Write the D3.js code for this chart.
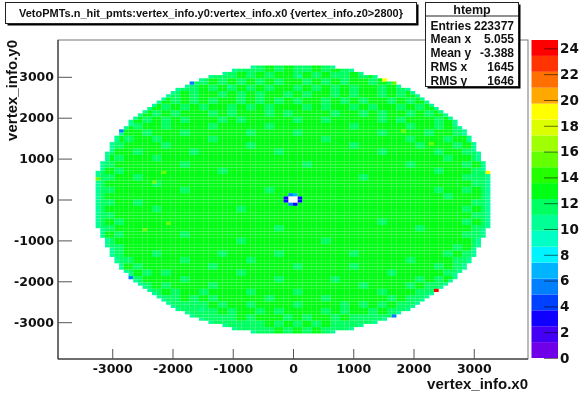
<!DOCTYPE html>
<html>
<head>
<meta charset="utf-8">
<script src="https://cdnjs.cloudflare.com/ajax/libs/d3/7.8.5/d3.min.js"></script>
<style>
html, body { margin: 0; padding: 0; background: #fff; }
svg { display: block; font-family: "Liberation Sans", sans-serif; filter: blur(0.4px); }
svg text { font-weight: bold; fill: #111; }
</style>
</head>
<body>
<div id="chart"></div>
<script>
var binWidth = 78, axisLimit = 3900;

// half width in bins of each row, going out from y = 0
var rowHalfWidths = [42,42,42,42,42,42,42,42,42,41,41,41,40,40,40,39,39,39,38,38,37,
                     37,36,35,35,34,33,32,31,30,29,28,27,26,25,23,22,20,18,15,13,9];

// estimated level of each 2x2 bin block, top row first. each digit is level - 10
var blockRows = [
  "222222222222222222323223232222222222222222",
  "222222222222222323233232322323222222222222",
  "222222222222323232323323232332322222222222",
  "222222222223232323233232323233232322222222",
  "222222222323323232332323323233232322322222",
  "222222232323233232323233232323323232322222",
  "222222323232332323233323233232332323222222",
  "222223232333232333232333323323233232322222",
  "222232323233323233333233233333232333232222",
  "222323323333233333233333333233333233232322",
  "222332333233333323333233333333233332332222",
  "223233233333233333333333233333333233323322",
  "222333323333333323333333333233333323332322",
  "223323333323333333323333333333233333233222",
  "232333233333333333333333333333333333323322",
  "223333333233333333333323333333333233333232",
  "232333333333323333333333333333333333233322",
  "223323333333333333333333333323333333333222",
  "233333233333333333333333333333333333333322",
  "223333333233333333233333333333333333233232",
  "233333333333333333333333333333333333323332",
  "223323333333333333333333333333333333333322",
  "233333233333333233333333333333333333333232",
  "223333333333333333333333333333333333333322",
  "232333333333333333333333333333233333333232",
  "223333333333333333323333333333333323333322",
  "232333333233333333333333333333333333333222",
  "223333333333333233333333233333333333333322",
  "222333333333333333333333333333333333332322",
  "222333233333323333323333333233333333323222",
  "222233333233333323333333333333333233332222",
  "222323333333233333333233333233333333232222",
  "222232323333333233333333333333323333322222",
  "222223333233333333323333323333333323232222",
  "222222323333233333333333333323333232222222",
  "222222232332333323333233333333233322222222",
  "222222222323233333233333233333323222222222",
  "222222222222323323333233332323232222222222",
  "222222222222232332323333232332322222222222",
  "222222222222222323332323323222222222222222",
  "222222222222222222323232322222222222222222",
  "222222222222222222232323222222222222222222"
];

// level of the last bin on each row end
var rimValue = 11;

// single bins that stand out, x and y in axis units
var spotX = [2400,1678,-2696,-2458,-2845,-1666,1528,3239,1700,2226,1830,2320,-3250,-2150,-2300,-2450,-2080,-1545,-1046,116];
var spotY = [-2210,-2838,-1892,-2218,1679,2872,2929,657,2860,2463,1690,1360,530,650,430,-730,-580,-2710,2806,3000];
var spotZ = [24,6,5,5,5,6,19,19,16,15,15.5,15.5,15.5,15.5,15.5,15.5,15.5,10.5,10.5,10.5];

// the hole in the middle, in bins
var holeBinX = [-1,0,-1,0];
var holeBinY = [-1,-1,0,0];
var holeRimBinX = [-2,-2,1,1,-1,0,-1,0];
var holeRimBinY = [0,-1,0,-1,1,1,-2,-2];
var holeRimZ = [3,3,3,3,6,7,5,3];

// z axis
var zMax = 24.65;
var palette = ["#7000e8","#4400f4","#1000ff","#0040ff","#0080ff","#00b4ff","#00f4ff","#00ffc4",
               "#00ff94","#00ff60","#00ff14","#24ff00","#64ff00","#a0ff00","#dcff00","#ffff00",
               "#ffa800","#ff7000","#ff3400","#ff0000"];

var xTicks = [-3000,-2000,-1000,0,1000,2000,3000];
var yTicks = [-3000,-2000,-1000,0,1000,2000,3000];
var zTicks = [0,2,4,6,8,10,12,14,16,18,20,22,24];

var titleText = "VetoPMTs.n_hit_pmts:vertex_info.y0:vertex_info.x0 {vertex_info.z0>2800}";
var statsName = "htemp";
var statsLabels = ["Entries","Mean x","Mean y","RMS x","RMS y"];
var statsValues = ["223377","5.055","-3.388","1645","1646"];

var width = 581, height = 399;
var margin = {top: 40, right: 53, bottom: 40, left: 58};

var svg = d3.select("#chart").append("svg")
    .attr("width", width)
    .attr("height", height);

var x = d3.scaleLinear().domain([-axisLimit, axisLimit]).range([margin.left, width - margin.right]);
var y = d3.scaleLinear().domain([-axisLimit, axisLimit]).range([height - margin.bottom, margin.top]);
var z = d3.scaleLinear().domain([0, zMax]).range([358, 40]);

var bandSize = zMax / palette.length;
var bandEdges = d3.range(1, palette.length).map(function(i) { return i * bandSize; });
var colour = d3.scaleThreshold().domain(bandEdges).range(palette);

// build the bin list
var cells = [];
rowHalfWidths.forEach(function(halfWidth, k) {
    [k, -k - 1].forEach(function(row) {
        for (var col = -halfWidth; col < halfWidth; col++) {
            var blockRow = Math.floor((41 - row) / 2),
                blockCol = Math.floor((col + 42) / 2),
                isRim = col == -halfWidth || col == halfWidth - 1;
            cells.push({col: col, row: row, value: isRim ? rimValue : 10 + Number(blockRows[blockRow][blockCol])});
        }
    });
});

function findCell(col, row) {
    return cells.find(function(c) { return c.col == col && c.row == row; });
}

spotX.forEach(function(sx, i) {
    var c = findCell(Math.floor(sx / binWidth), Math.floor(spotY[i] / binWidth));
    if (c) c.value = spotZ[i];
});
holeRimBinX.forEach(function(col, i) {
    findCell(col, holeRimBinY[i]).value = holeRimZ[i];
});
holeBinX.forEach(function(col, i) {
    cells.splice(cells.indexOf(findCell(col, holeBinY[i])), 1);
});

// draw the bins
svg.append("g")
    .selectAll("rect")
    .data(cells)
    .enter()
    .append("rect")
    .attr("x", function(d) { return x(d.col * binWidth); })
    .attr("y", function(d) { return y((d.row + 1) * binWidth); })
    .attr("width", x(binWidth) - x(0))
    .attr("height", y(0) - y(binWidth))
    .attr("fill", function(d) { return colour(d.value); });

// frame
svg.append("rect")
    .attr("x", margin.left)
    .attr("y", margin.top)
    .attr("width", width - margin.left - margin.right)
    .attr("height", height - margin.top - margin.bottom)
    .attr("fill", "none")
    .attr("stroke", "#777");
svg.append("path")
    .attr("d", d3.line()([[margin.left, margin.top], [margin.left, height - margin.bottom], [width - margin.right, height - margin.bottom]]))
    .attr("fill", "none")
    .attr("stroke", "#222");

function minorTicks() {
    return d3.range(-3800, 3801, 200);
}

// x axis, ticks pointing up into the plot
var xAxis = svg.append("g").attr("transform", "translate(0," + (height - margin.bottom) + ")");
xAxis.call(d3.axisBottom(x).tickValues(minorTicks()).tickSize(-5).tickFormat(""));
xAxis.call(d3.axisBottom(x).tickValues(xTicks).tickSize(-10).tickPadding(11).tickFormat(String));

var yAxis = svg.append("g").attr("transform", "translate(" + margin.left + ",0)");
yAxis.call(d3.axisLeft(y).tickValues(minorTicks()).tickSize(-7).tickFormat(""));
yAxis.call(d3.axisLeft(y).tickValues(yTicks).tickSize(-14).tickPadding(4).tickFormat(String));

[xAxis, yAxis].forEach(function(axis) {
    axis.selectAll(".domain").remove();
    axis.selectAll("line").attr("stroke", "#555");
    axis.selectAll("text")
        .attr("font-family", "DejaVu Sans")
        .attr("font-size", 12.5)
        .style("font-weight", "bold");
});
xAxis.selectAll("text").attr("dy", "0.2em");

// axis titles
svg.append("text")
    .attr("x", 528)
    .attr("y", 389)
    .attr("text-anchor", "end")
    .attr("font-size", 15)
    .text("vertex_info.x0");
svg.append("text")
    .attr("transform", "translate(17,40) rotate(-90)")
    .attr("text-anchor", "end")
    .attr("font-size", 15)
    .text("vertex_info.y0");

// colour bar
var zBar = svg.append("g");
zBar.selectAll("rect")
    .data(palette)
    .enter()
    .append("rect")
    .attr("x", 531.5)
    .attr("y", function(d, i) { return z((i + 1) * bandSize); })
    .attr("width", 26.5)
    .attr("height", function(d, i) { return z(i * bandSize) - z((i + 1) * bandSize); })
    .attr("fill", function(d) { return d; });
var zAxis = svg.append("g").attr("transform", "translate(558,0)");
zAxis.call(d3.axisRight(z).tickValues(zTicks).tickSize(-14).tickPadding(2).tickFormat(String));
zAxis.select(".domain").remove();
zAxis.selectAll("line").attr("stroke", "#000").attr("stroke-opacity", 0.55);
zAxis.selectAll("text")
    .attr("font-family", "DejaVu Sans")
    .attr("font-size", 13.5)
    .style("font-weight", "bold");

// boxes with a drop shadow
function box(left, top, right, bottom) {
    svg.append("rect")
        .attr("x", left + 2).attr("y", top + 2)
        .attr("width", right - left).attr("height", bottom - top)
        .attr("fill", "#000");
    svg.append("rect")
        .attr("x", left).attr("y", top)
        .attr("width", right - left).attr("height", bottom - top)
        .attr("fill", "#fff")
        .attr("stroke", "#222");
}

box(5.5, 2.5, 416.5, 23.5);
svg.append("text")
    .attr("x", 19)
    .attr("y", 16.5)
    .attr("font-size", 10)
    .attr("textLength", 384)
    .attr("lengthAdjust", "spacingAndGlyphs")
    .text(titleText);

box(425.5, 2.5, 518.5, 86.5);
svg.append("line")
    .attr("x1", 425.5).attr("x2", 518.5)
    .attr("y1", 16).attr("y2", 16)
    .attr("stroke", "#222");
svg.append("text")
    .attr("x", 472)
    .attr("y", 14)
    .attr("text-anchor", "middle")
    .attr("font-size", 12.5)
    .text(statsName);

var statsY = d3.scalePoint().domain(statsLabels).range([29.5, 84.5]);
svg.append("g").selectAll("text")
    .data(statsLabels)
    .enter()
    .append("text")
    .attr("x", 430.5)
    .attr("y", function(d) { return statsY(d); })
    .attr("font-size", 12)
    .text(function(d) { return d; });
svg.append("g").selectAll("text")
    .data(statsValues)
    .enter()
    .append("text")
    .attr("x", 514)
    .attr("y", function(d, i) { return statsY(statsLabels[i]); })
    .attr("text-anchor", "end")
    .attr("font-size", 12)
    .text(function(d) { return d; });
</script>
</body>
</html>
